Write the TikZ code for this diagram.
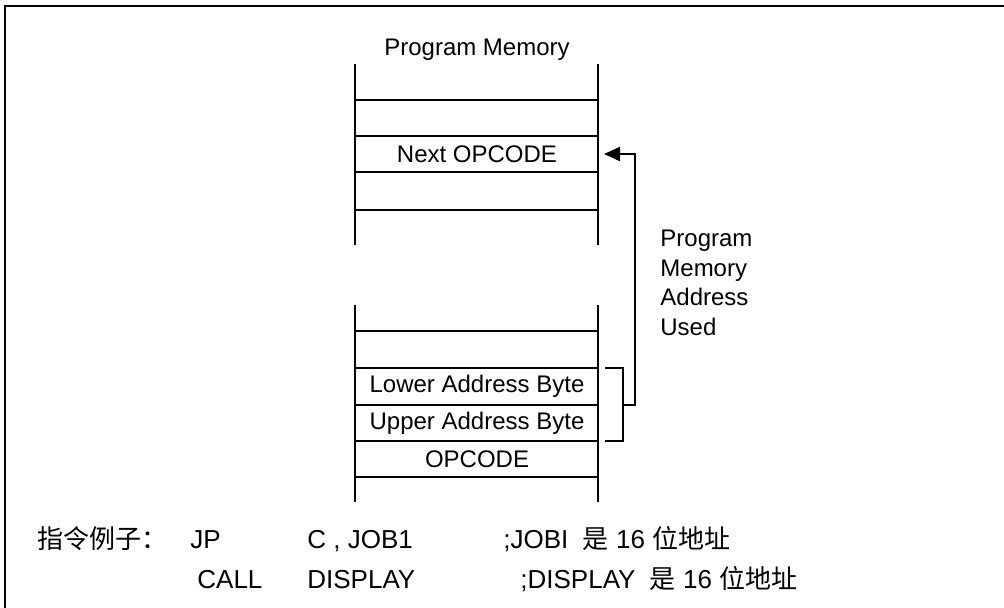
\documentclass[tikz,border=0pt]{standalone}
\usepackage{fontspec}
\setmainfont{Liberation Sans}
\newfontfamily\cjk{Noto Sans CJK SC}
\usetikzlibrary{positioning, arrows.meta}
\tikzset{
    cellnode/.style = {draw=none, rectangle, inner sep = 0em, font=\fontsize{12}{14}\selectfont},
    textnode/.style = {draw=none, fill=none, rectangle, inner sep = 0em, anchor=base west,
      font=\fontsize{13}{15}\selectfont},
    labelnode/.style = {draw=none, align=left, inner sep = 0em, anchor=west,
      font=\fontsize{12}{14.75}\selectfont},
    memline/.style = {black, line width=0.9pt},
    connect/.style = {black, line width=0.9pt, -{Triangle[length=8pt, width=7pt]}}
}

\begin{document}
\begin{tikzpicture}[x=0.5pt, y=-0.5pt]
    \useasboundingbox (0,0) rectangle (1004,608);
    % frame
    \draw [line width=1.3pt] (5,608) -- (5,6) -- (1004,6);

    % upper part of program memory
    \node [name = title, cellnode] at (477,50) {Program Memory};
    \draw [memline] (355,64) -- (355,245);
    \draw [memline] (598,64) -- (598,245);
    \foreach \y in {100,136,172,210}
        \draw [memline] (355,\y) -- (598,\y);
    \node [name = next, cellnode] at (477,154) {Next OPCODE};

    % lower part of program memory
    \draw [memline] (355,305) -- (355,502);
    \draw [memline] (598,305) -- (598,502);
    \foreach \y in {331,368,405,441,477}
        \draw [memline] (355,\y) -- (598,\y);
    \node [name = lower, cellnode] at (477,386) {Lower Address Byte};
    \node [name = upper, cellnode] at (477,423) {Upper Address Byte};
    \node [name = op, cellnode] at (477,459) {OPCODE};

    % bracket and jump arrow
    \coordinate (B1) at (605,368);
    \coordinate (B2) at (605,441);
    \coordinate (Bm) at (623,405);
    \coordinate (T) at (604,154);
    \draw [memline] (B1) -- (623,368) -- (623,441) -- (B2);
    \draw [connect] (Bm) -- (635,405) -- (635,154) -- (T);
    \node [name = used, labelnode] at (660,283) {Program\\Memory\\Address\\Used};

    % example instructions
    \node [name = ex, textnode] at (37,548) {\cjk 指令例子：};
    \node [name = jp, textnode] at (190,548) {JP};
    \node [name = jpargs, textnode] at (307,548) {C , JOB1};
    \node [name = jpnote, textnode] at (503,548) {;JOBI\ \ {\cjk 是} 16 {\cjk 位地址}};
    \node [name = call, textnode] at (197,588) {CALL};
    \node [name = callargs, textnode] at (307,588) {DISPLAY};
    \node [name = callnote, textnode] at (520,588) {;DISPLAY\ \ {\cjk 是} 16 {\cjk 位地址}};
\end{tikzpicture}
\end{document}
